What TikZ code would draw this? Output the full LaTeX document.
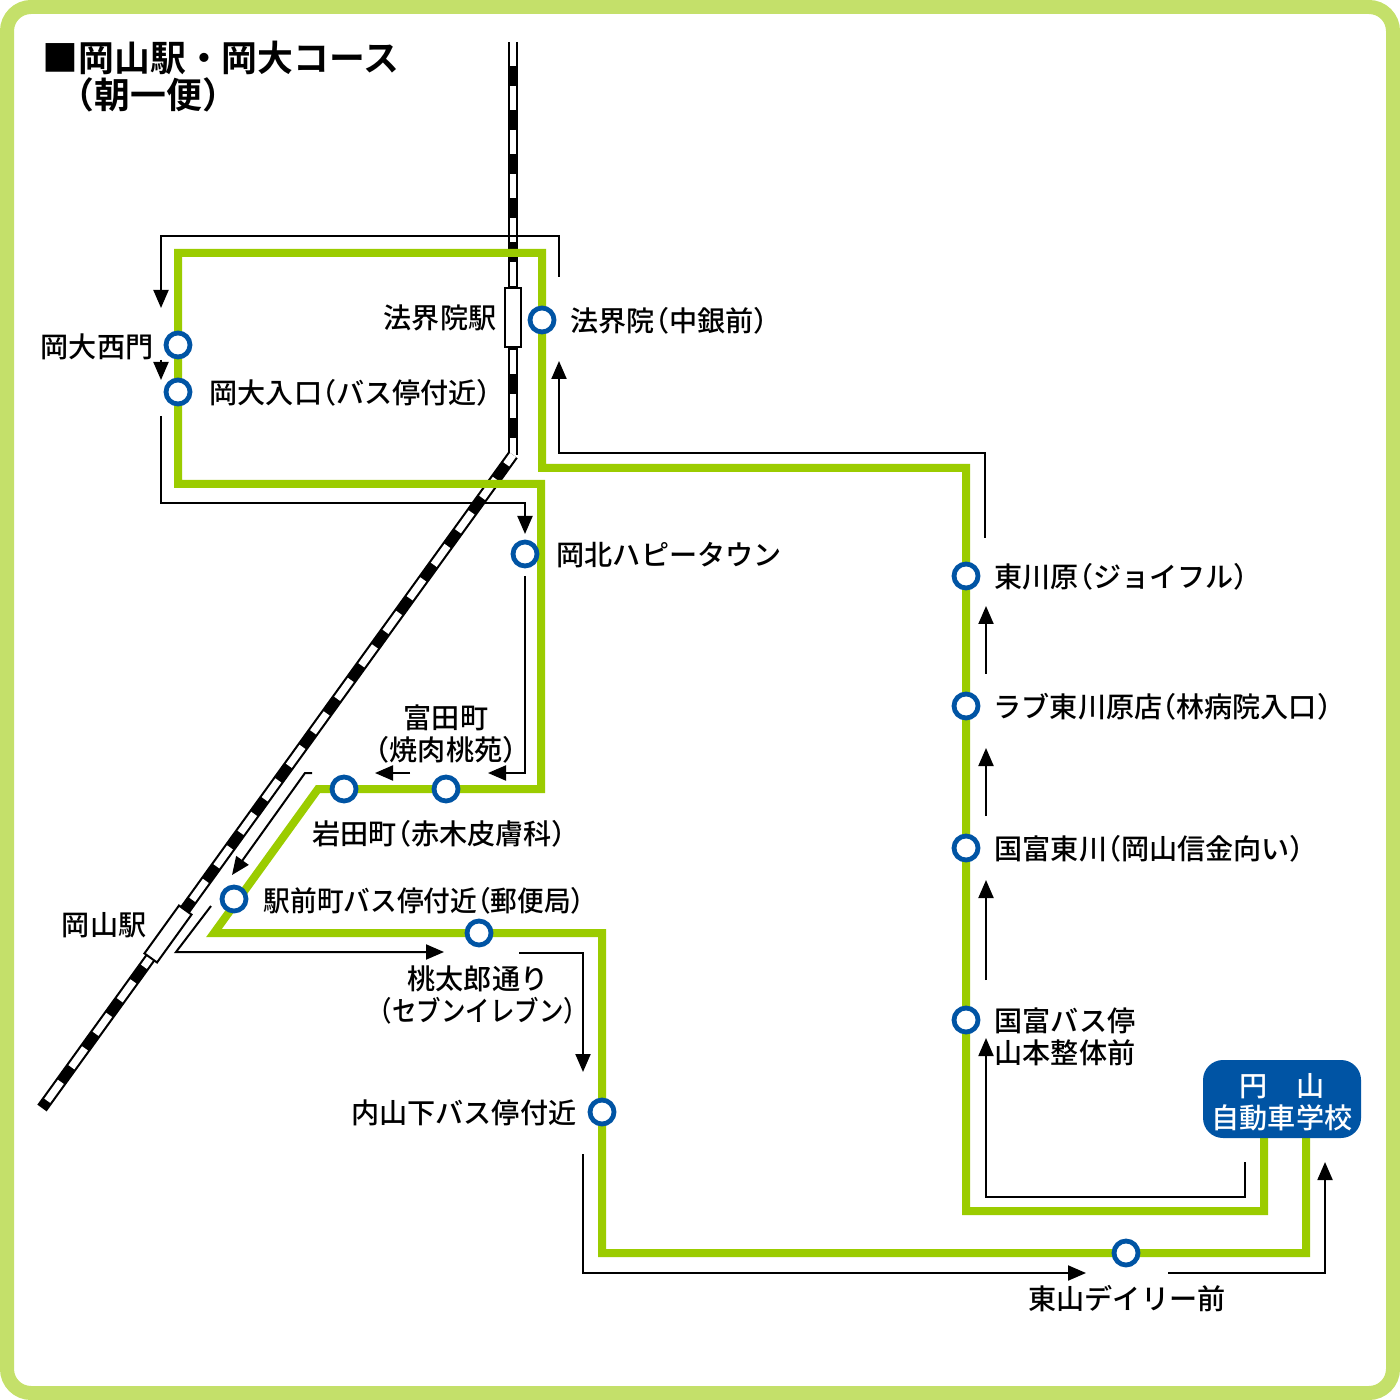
\documentclass[tikz,border=0pt]{standalone}
\usepackage{fontspec}
\usepackage{graphicx}
\setmainfont{Noto Sans CJK JP Medium}[BoldFont=Noto Sans CJK JP Bold]
\usetikzlibrary{arrows.meta, backgrounds}
\definecolor{framegreen}{HTML}{C4E06A}
\definecolor{routegreen}{HTML}{9BCC00}
\definecolor{stopblue}{HTML}{0054A4}
% tight round brackets
\newcommand{\lbrk}{\kern-.5em（}
\newcommand{\rbrk}{）\kern-.5em}

\begin{document}
\begin{tikzpicture}[x=0.1mm,y=-0.1mm]
    \tikzstyle{frame}=[draw=framegreen,line width=1.4mm,rounded corners=2.4mm]
    \tikzstyle{route}=[draw=routegreen,line width=0.8mm]
    \tikzstyle{bus}=[draw=black,line width=0.2mm,-{Triangle[length=1.8mm,width=1.5mm]}]
    \tikzstyle{stop}=[circle,draw=stopblue,fill=white,line width=0.48mm,minimum size=2.4mm,inner sep=0pt]
    \tikzstyle{station}=[rectangle,draw=black,fill=white,line width=0.2mm,minimum width=5.9mm,minimum height=1.55mm,inner sep=0pt]
    \tikzstyle{annot}=[inner sep=0pt,font=\fontsize{8}{8.8}\selectfont,text height=7.2pt,text depth=0.6pt]
    \tikzstyle{annot two}=[inner sep=0pt,align=center,font=\fontsize{8}{8.85}\selectfont]
    \tikzstyle{headline}=[inner sep=0pt,anchor=west,font=\fontsize{10.2}{12}\selectfont\bfseries,text height=9pt,text depth=0.3pt]

    \useasboundingbox (0,0) rectangle (1400,1400);

    % Draw the bus stops
    \foreach \name / \x / \y in {hokkaiin/542/320, nishimon/178/345, iriguchi/178/392,
        hapi/525/554, tomita/446/789, iwata/344/789, ekimae/234/899, momotaro/479/933,
        uchisange/602/1112, daily/1126/1253, kunidomi/966/1020, higashigawa/966/848,
        love/966/706, joyful/966/576}
        \node[stop] (S-\name) at (\x,\y) {};

    % Draw the labels beside the stops
    \foreach \name / \x / \y / \txt in {hokkaiin/570/320/法界院\lbrk 中銀前\rbrk,
        iriguchi/209/392/岡大入口\lbrk バス停付近\rbrk, hapi/556/554/岡北ハピータウン,
        iwata/312/833/岩田町\lbrk 赤木皮膚科\rbrk, ekimae/263/900/{\scalebox{.95}[1]{駅前町バス停付近\lbrk 郵便局\rbrk}},
        joyful/994/576/東川原\lbrk ジョイフル\rbrk, love/993/706/ラブ東川原店\lbrk 林病院入口\rbrk,
        higashigawa/994/848/国富東川\lbrk 岡山信金向い\rbrk, kunidomi/994/1020/国富バス停,
        seitai/994/1052/山本整体前}
        \node[annot,anchor=west] (L-\name) at (\x,\y) {\txt};
    \foreach \name / \x / \y / \txt in {nishimon/154/346/岡大西門, hokkaiineki/497/317/法界院駅,
        okayamaeki/147/924/岡山駅, uchisange/577/1112/内山下バス停付近}
        \node[annot,anchor=east] (L-\name) at (\x,\y) {\txt};
    \node[annot] (L-daily) at (1127,1298) {東山デイリー前};
    \node[annot two] (L-tomita) at (446,734) {富田町\\\lbrk 焼肉桃苑\rbrk};
    \node[annot two] (L-momotaro) at (478,995) {桃太郎通り\\\scalebox{.87}[1]{\lbrk セブンイレブン\rbrk}};

    % The title
    \node[headline] (T-1) at (42,56) {■岡山駅・岡大コース};
    \node[headline] (T-2) at (76,93) {\lbrk 朝一便\rbrk};

    % The school
    \node[rectangle,fill=stopblue,rounded corners=2mm,minimum width=15.8mm,minimum height=7.8mm,
        inner sep=0pt,align=center,text=white,font=\fontsize{8}{9.1}\selectfont] (school) at (1282,1099) {\rule{0pt}{8.4pt}円　山\\自動車学校};

    % Corners and free ends
    \foreach \name / \x / \y in {R-a/1264/1211, R-b/966/1211, R-c/966/468, R-d/542/468, R-e/542/253,
        R-f/178/253, R-g/178/484, R-h/541/484, R-i/541/789, R-j/318/789, R-k/214/933, R-l/602/933,
        R-m/602/1253, R-n/1306/1253, R-o/1264/1138, R-p/1306/1138,
        rail-top/513/42, rail-bend/513/455, rail-end/42/1108,
        a1/559/277, a2/559/236, a3/161/236, a4/161/308, b1/161/360, b2/161/380,
        c1/161/416, c2/161/503, c3/525/503, c4/525/534, d1/525/576, d2/525/773, d3/488/773,
        e1/410/773, e2/375/773, f1/312/773, f2/305/773, f3/232/875,
        g1/211/906, g2/176/952, g3/444/952, h1/519/953, h2/583/953, h3/583/1072,
        i1/583/1154, i2/583/1273, i3/1086/1273, j1/1168/1273, j2/1325/1273, j3/1325/1162,
        k1/1245/1162, k2/1245/1197, k3/986/1197, k4/986/1038, l1/986/980, l2/986/880,
        m1/986/816, m2/986/748, n1/986/674, n2/986/606, o1/985/538, o2/985/453, o3/559/453, o4/559/361}
        \coordinate (\name) at (\x,\y);

    \begin{pgfonlayer}{background}
        \draw[frame,fill=white] (7,7) rectangle (1393,1393);

        % The railway, black with a white dashed core
        \draw[line width=0.95mm,draw=black] (rail-top) -- (rail-bend);
        \draw[line width=0.55mm,draw=white,dash pattern=on 2.4mm off 2mm] (rail-top) -- (rail-bend);
        \draw[line width=1.15mm,draw=black] (rail-bend) -- (rail-end);
        \draw[line width=0.72mm,draw=white,dash pattern=on 2.33mm off 1.8mm,dash phase=1.18mm] (rail-bend) -- (rail-end);

        % The bus route
        \draw[route] (R-o) -- (R-a) -- (R-b) -- (S-kunidomi.center) -- (S-higashigawa.center) -- (S-love.center)
            -- (S-joyful.center) -- (R-c) -- (R-d) -- (S-hokkaiin.center) -- (R-e) -- (R-f)
            -- (S-nishimon.center) -- (S-iriguchi.center) -- (R-g) -- (R-h) -- (R-i)
            -- (S-tomita.center) -- (S-iwata.center) -- (R-j) -- (R-k)
            -- (S-momotaro.center) -- (R-l) -- (S-uchisange.center) -- (R-m)
            -- (S-daily.center) -- (R-n) -- (R-p);
    \end{pgfonlayer}

    % The two stations
    \node[station,rotate=90] (hokkaiin eki) at (513,317.5) {};
    \node[station,rotate=54.2] (okayama eki) at (168,934) {};

    % Arrows along the route
    \draw[bus] (a1) -- (a2) -- (a3) -- (a4);
    \draw[bus] (b1) -- (b2);
    \draw[bus] (c1) -- (c2) -- (c3) -- (c4);
    \draw[bus] (d1) -- (d2) -- (d3);
    \draw[bus] (e1) -- (e2);
    \draw[bus] (f1) -- (f2) -- (f3);
    \draw[bus] (g1) -- (g2) -- (g3);
    \draw[bus] (h1) -- (h2) -- (h3);
    \draw[bus] (i1) -- (i2) -- (i3);
    \draw[bus] (j1) -- (j2) -- (j3);
    \draw[bus] (k1) -- (k2) -- (k3) -- (k4);
    \draw[bus] (l1) -- (l2);
    \draw[bus] (m1) -- (m2);
    \draw[bus] (n1) -- (n2);
    \draw[bus] (o1) -- (o2) -- (o3) -- (o4);
\end{tikzpicture}
\end{document}
